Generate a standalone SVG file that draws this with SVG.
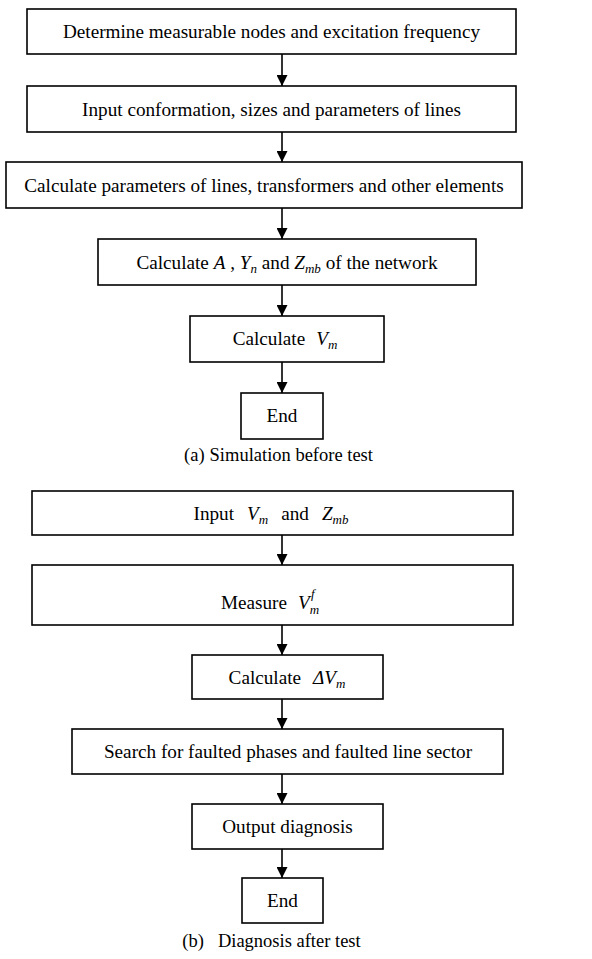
<svg xmlns="http://www.w3.org/2000/svg" width="592" height="959" viewBox="0 0 592 959">
<defs>
<style>
.box{fill:#fff;stroke:#000;stroke-width:1.6}
.t{font-family:"Liberation Serif","Times New Roman",serif;font-size:19.2px;fill:#000;text-anchor:middle}
.i{font-style:italic}
.s{font-size:13px;font-style:italic}
.cap{font-size:18.5px}
.ln{stroke:#000;stroke-width:1.6;fill:none}
</style>
<marker id="ah" markerUnits="userSpaceOnUse" markerWidth="11" markerHeight="11" refX="11" refY="5.5" orient="auto">
<path d="M0,0 L11,5.5 L0,11 z" fill="#000"/>
</marker>
</defs>
<rect width="592" height="959" fill="#fff"/>
<g id="connectors">
<line class="ln" x1="282" y1="54" x2="282" y2="86" marker-end="url(#ah)"/>
<line class="ln" x1="282" y1="132" x2="282" y2="162" marker-end="url(#ah)"/>
<line class="ln" x1="282" y1="208" x2="282" y2="239" marker-end="url(#ah)"/>
<line class="ln" x1="282" y1="285" x2="282" y2="316" marker-end="url(#ah)"/>
<line class="ln" x1="282" y1="362" x2="282" y2="393" marker-end="url(#ah)"/>
<line class="ln" x1="282" y1="535" x2="282" y2="565" marker-end="url(#ah)"/>
<line class="ln" x1="282" y1="625" x2="282" y2="655" marker-end="url(#ah)"/>
<line class="ln" x1="282" y1="699" x2="282" y2="729" marker-end="url(#ah)"/>
<line class="ln" x1="282" y1="774" x2="282" y2="804" marker-end="url(#ah)"/>
<line class="ln" x1="282" y1="849" x2="282" y2="878" marker-end="url(#ah)"/>
</g>
<g id="n1"><rect class="box" x="27" y="9" width="489" height="45"/><text class="t" x="271.5" y="38">Determine measurable nodes and excitation frequency</text></g>
<g id="n2"><rect class="box" x="27" y="86" width="489" height="46"/><text class="t" x="271.5" y="116">Input conformation, sizes and parameters of lines</text></g>
<g id="n3"><rect class="box" x="6" y="162" width="516" height="46"/><text class="t" x="264" y="192">Calculate parameters of lines, transformers and other elements</text></g>
<g id="n4"><rect class="box" x="98" y="239" width="378" height="46"/><text class="t" x="287" y="269">Calculate <tspan class="i">A</tspan> , <tspan class="i">Y</tspan><tspan class="s" dy="4">n</tspan><tspan dy="-4"> and </tspan><tspan class="i">Z</tspan><tspan class="s" dy="4">mb</tspan><tspan dy="-4"> of the network</tspan></text></g>
<g id="n5"><rect class="box" x="190" y="316" width="194" height="46"/><text class="t" x="285" y="345">Calculate<tspan class="i" dx="11">V</tspan><tspan class="s" dy="4">m</tspan></text></g>
<g id="n6"><rect class="box" x="241" y="393" width="82" height="46"/><text class="t" x="282" y="422">End</text></g>
<g id="capA"><text class="t cap" x="278.5" y="461">(a)<tspan dx="5">Simulation before test</tspan></text></g>
<g id="n7"><rect class="box" x="32" y="491" width="481" height="44"/><text class="t" x="271" y="520">Input<tspan class="i" dx="13">V</tspan><tspan class="s" dy="4">m</tspan><tspan dy="-4" dx="13">and</tspan><tspan class="i" dx="13">Z</tspan><tspan class="s" dy="4">mb</tspan></text></g>
<g id="n8"><rect class="box" x="32" y="565" width="481" height="60"/><text class="t" x="270" y="609">Measure<tspan class="i" dx="11">V</tspan><tspan class="s" dy="5">m</tspan><tspan class="s" dx="-8" dy="-16">f</tspan></text></g>
<g id="n9"><rect class="box" x="192" y="655" width="191" height="44"/><text class="t" x="287" y="684">Calculate<tspan class="i" dx="12">ΔV</tspan><tspan class="s" dy="4">m</tspan></text></g>
<g id="n10"><rect class="box" x="72" y="729" width="431" height="45"/><text class="t" x="288" y="758">Search for faulted phases and faulted line sector</text></g>
<g id="n11"><rect class="box" x="192" y="804" width="191" height="45"/><text class="t" x="287.5" y="833">Output diagnosis</text></g>
<g id="n12"><rect class="box" x="242" y="878" width="81" height="45"/><text class="t" x="282.5" y="907">End</text></g>
<g id="capB"><text class="t cap" x="271.5" y="947">(b)<tspan dx="14">Diagnosis after test</tspan></text></g>
</svg>
